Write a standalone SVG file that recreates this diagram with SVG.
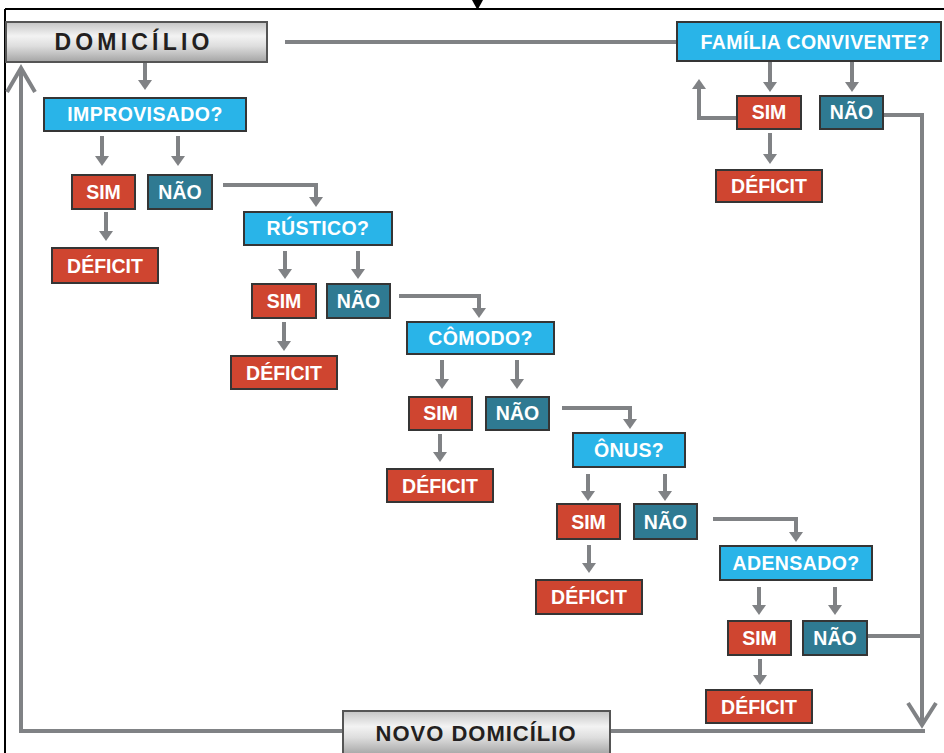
<svg xmlns="http://www.w3.org/2000/svg" width="944" height="753" viewBox="0 0 944 753">
<defs>
<linearGradient id="gray" x1="0" y1="0" x2="0" y2="1">
<stop offset="0" stop-color="#c4c4c4"/>
<stop offset="0.35" stop-color="#f3f3f3"/>
<stop offset="0.6" stop-color="#dedede"/>
<stop offset="1" stop-color="#a4a4a4"/>
</linearGradient>
<marker id="ah" markerWidth="10" markerHeight="14" refX="1" refY="7" orient="auto" markerUnits="userSpaceOnUse">
<path d="M0,0 L10,7 L0,14 z" fill="#808285"/>
</marker>
<style>
.q{fill:#29b4e8;stroke:#353535;stroke-width:2}
.s{fill:#cf4530;stroke:#353535;stroke-width:2}
.n{fill:#2f7a92;stroke:#353535;stroke-width:2}
.g{fill:url(#gray);stroke:#555;stroke-width:2}
.t{font-family:"Liberation Sans",Arial,sans-serif;font-weight:bold;font-size:19.5px;fill:#fff;text-anchor:middle}
.gt{font-family:"Liberation Sans",Arial,sans-serif;font-weight:bold;fill:#231f20;text-anchor:middle}
.c{fill:none;stroke:#808285;stroke-width:4;stroke-linejoin:miter}
.a{fill:none;stroke:#808285;stroke-width:4;marker-end:url(#ah)}
.f{fill:none;stroke:#000;stroke-width:2}
</style>
</defs>
<g id="frame">
<line class="f" x1="5" y1="9" x2="944" y2="9"/>
<line class="f" x1="5" y1="9" x2="5" y2="753"/>
<polygon points="472,0 483,0 477.5,10" fill="#000"/>
</g>
<g id="connectors">
<line class="c" x1="285" y1="42" x2="677" y2="42"/>
<line class="a" x1="145" y1="63" x2="145" y2="81"/>
<line class="a" x1="102" y1="136" x2="102" y2="157"/>
<line class="a" x1="178" y1="136" x2="178" y2="157"/>
<line class="a" x1="106" y1="212" x2="106" y2="232"/>
<polyline class="a" points="223,185 316,185 316,198"/>
<line class="a" x1="285" y1="251" x2="285" y2="270"/>
<line class="a" x1="358" y1="251" x2="358" y2="270"/>
<line class="a" x1="284" y1="322" x2="284" y2="342"/>
<polyline class="a" points="399,296 479,296 479,309"/>
<line class="a" x1="442" y1="360" x2="442" y2="380"/>
<line class="a" x1="517" y1="360" x2="517" y2="380"/>
<line class="a" x1="440" y1="434" x2="440" y2="453"/>
<polyline class="a" points="562,408 630,408 630,420"/>
<line class="a" x1="588" y1="474" x2="588" y2="492"/>
<line class="a" x1="665" y1="474" x2="665" y2="492"/>
<line class="a" x1="589" y1="545" x2="589" y2="564"/>
<polyline class="a" points="713,519 796,519 796,533"/>
<line class="a" x1="759" y1="587" x2="759" y2="606"/>
<line class="a" x1="835" y1="587" x2="835" y2="606"/>
<line class="a" x1="760" y1="659" x2="760" y2="676"/>
<line class="a" x1="770" y1="62" x2="770" y2="83"/>
<line class="a" x1="852" y1="62" x2="852" y2="83"/>
<line class="a" x1="770" y1="133" x2="770" y2="155"/>
<polyline class="a" points="737,118 699,118 699,88"/>
<polyline class="c" points="883,115 922,115 922,725"/>
<polyline class="c" points="908,703 922,725 936,703"/>
<line class="c" x1="867" y1="636" x2="922" y2="636"/>
<line class="c" x1="610" y1="731" x2="925" y2="731"/>
<polyline class="c" points="343,731 21,731 21,68"/>
<polyline class="c" points="7,92 21,68 35,92"/>
</g>
<g id="domicilio"><rect class="g" x="6" y="22" width="261" height="40"/><text class="gt" x="134" y="50" font-size="23" letter-spacing="4.2">DOMICÍLIO</text></g>
<g id="familia"><rect class="q" x="677" y="22" width="264" height="39"/><text class="t" x="815" y="49" letter-spacing="0.4">FAMÍLIA CONVIVENTE?</text></g>
<g id="simF"><rect class="s" x="737" y="96" width="64" height="33"/><text class="t" x="769" y="119">SIM</text></g>
<g id="naoF"><rect class="n" x="820" y="96" width="63" height="33"/><text class="t" x="851.5" y="119">NÃO</text></g>
<g id="deficitF"><rect class="s" x="716" y="170" width="106" height="32"/><text class="t" x="769" y="193">DÉFICIT</text></g>
<g id="improvisado"><rect class="q" x="44" y="98" width="202" height="33"/><text class="t" x="145" y="121" letter-spacing="0.4">IMPROVISADO?</text></g>
<g id="sim1"><rect class="s" x="72" y="175" width="63" height="34"/><text class="t" x="103.5" y="199">SIM</text></g>
<g id="nao1"><rect class="n" x="148" y="175" width="64" height="34"/><text class="t" x="180" y="199">NÃO</text></g>
<g id="deficit1"><rect class="s" x="52" y="248" width="106" height="35"/><text class="t" x="105" y="273">DÉFICIT</text></g>
<g id="rustico"><rect class="q" x="244" y="212" width="148" height="33"/><text class="t" x="318" y="235" letter-spacing="0.4">RÚSTICO?</text></g>
<g id="sim2"><rect class="s" x="252" y="284" width="64" height="34"/><text class="t" x="284" y="308">SIM</text></g>
<g id="nao2"><rect class="n" x="327" y="284" width="63" height="34"/><text class="t" x="358.5" y="308">NÃO</text></g>
<g id="deficit2"><rect class="s" x="231" y="356" width="106" height="33"/><text class="t" x="284" y="380">DÉFICIT</text></g>
<g id="comodo"><rect class="q" x="407" y="322" width="147" height="32"/><text class="t" x="480.5" y="345" letter-spacing="0.4">CÔMODO?</text></g>
<g id="sim3"><rect class="s" x="409" y="397" width="63" height="33"/><text class="t" x="440.5" y="420">SIM</text></g>
<g id="nao3"><rect class="n" x="486" y="397" width="63" height="33"/><text class="t" x="517.5" y="420">NÃO</text></g>
<g id="deficit3"><rect class="s" x="387" y="469" width="106" height="33"/><text class="t" x="440" y="493">DÉFICIT</text></g>
<g id="onus"><rect class="q" x="573" y="433" width="112" height="34"/><text class="t" x="629" y="457" letter-spacing="0.4">ÔNUS?</text></g>
<g id="sim4"><rect class="s" x="557" y="504" width="63" height="35"/><text class="t" x="588.5" y="529">SIM</text></g>
<g id="nao4"><rect class="n" x="634" y="504" width="63" height="35"/><text class="t" x="665.5" y="529">NÃO</text></g>
<g id="deficit4"><rect class="s" x="536" y="580" width="106" height="34"/><text class="t" x="589" y="604">DÉFICIT</text></g>
<g id="adensado"><rect class="q" x="720" y="546" width="152" height="34"/><text class="t" x="796" y="570" letter-spacing="0.4">ADENSADO?</text></g>
<g id="sim5"><rect class="s" x="728" y="621" width="63" height="34"/><text class="t" x="759.5" y="645">SIM</text></g>
<g id="nao5"><rect class="n" x="803" y="621" width="64" height="34"/><text class="t" x="835" y="645">NÃO</text></g>
<g id="deficit5"><rect class="s" x="706" y="690" width="106" height="33"/><text class="t" x="759" y="714">DÉFICIT</text></g>
<g id="novo"><rect class="g" x="343" y="711" width="267" height="44"/><text class="gt" x="476" y="741" font-size="22" letter-spacing="1">NOVO DOMICÍLIO</text></g>
</svg>
